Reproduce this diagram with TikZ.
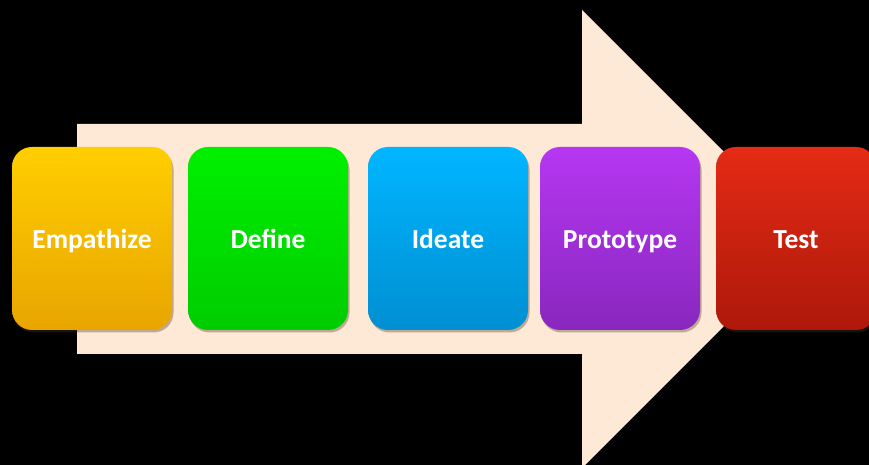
\documentclass[tikz,border=0pt]{standalone}
\usepackage{fontspec}
\setmainfont{Carlito}
\usetikzlibrary{shadows}
\definecolor{arrowpeach}{HTML}{FEE9D7}
\definecolor{empTop}{HTML}{FFCE00}
\definecolor{empBot}{HTML}{E8A500}
\definecolor{defTop}{HTML}{00F000}
\definecolor{defBot}{HTML}{00CC00}
\definecolor{ideTop}{HTML}{00B6FF}
\definecolor{ideBot}{HTML}{008FD2}
\definecolor{proTop}{HTML}{B637F2}
\definecolor{proBot}{HTML}{8827BE}
\definecolor{tesTop}{HTML}{E42B15}
\definecolor{tesBot}{HTML}{AE180A}
\tikzset{
  phase/.style={rounded corners=20pt, minimum width=160pt, minimum height=183pt,
    inner sep=0pt, text=white, font=\fontsize{27.5}{30}\selectfont\bfseries,
    text height=19.5pt, text depth=0pt,
    drop shadow={shadow xshift=1.5pt, shadow yshift=-2.5pt, opacity=0.35, fill=black!60!brown}}
}
\begin{document}
\begin{tikzpicture}[x=1pt,y=1pt]
		\useasboundingbox (0,0) rectangle (869,465);
		\fill[black](0,0) rectangle (869,465);
		
		% big arrow
		\fill[arrowpeach](77,341)--(582,341)--(582,455)--(811,226)--(582,-3)--
		(582,111)--(77,111)--cycle;
		
		% phases
		\node[phase, top color=empTop, bottom color=empBot] (empathize) at (92,226.5) {Empathize};
		\node[phase, top color=defTop, bottom color=defBot] (define) at (268,226.5) {Define};
		\node[phase, top color=ideTop, bottom color=ideBot] (ideate) at (448,226.5) {Ideate};
		\node[phase, top color=proTop, bottom color=proBot] (prototype) at (620,226.5) {Prototype};
		\node[phase, top color=tesTop, bottom color=tesBot] (test) at (796,226.5) {Test};
\end{tikzpicture}
\end{document}
